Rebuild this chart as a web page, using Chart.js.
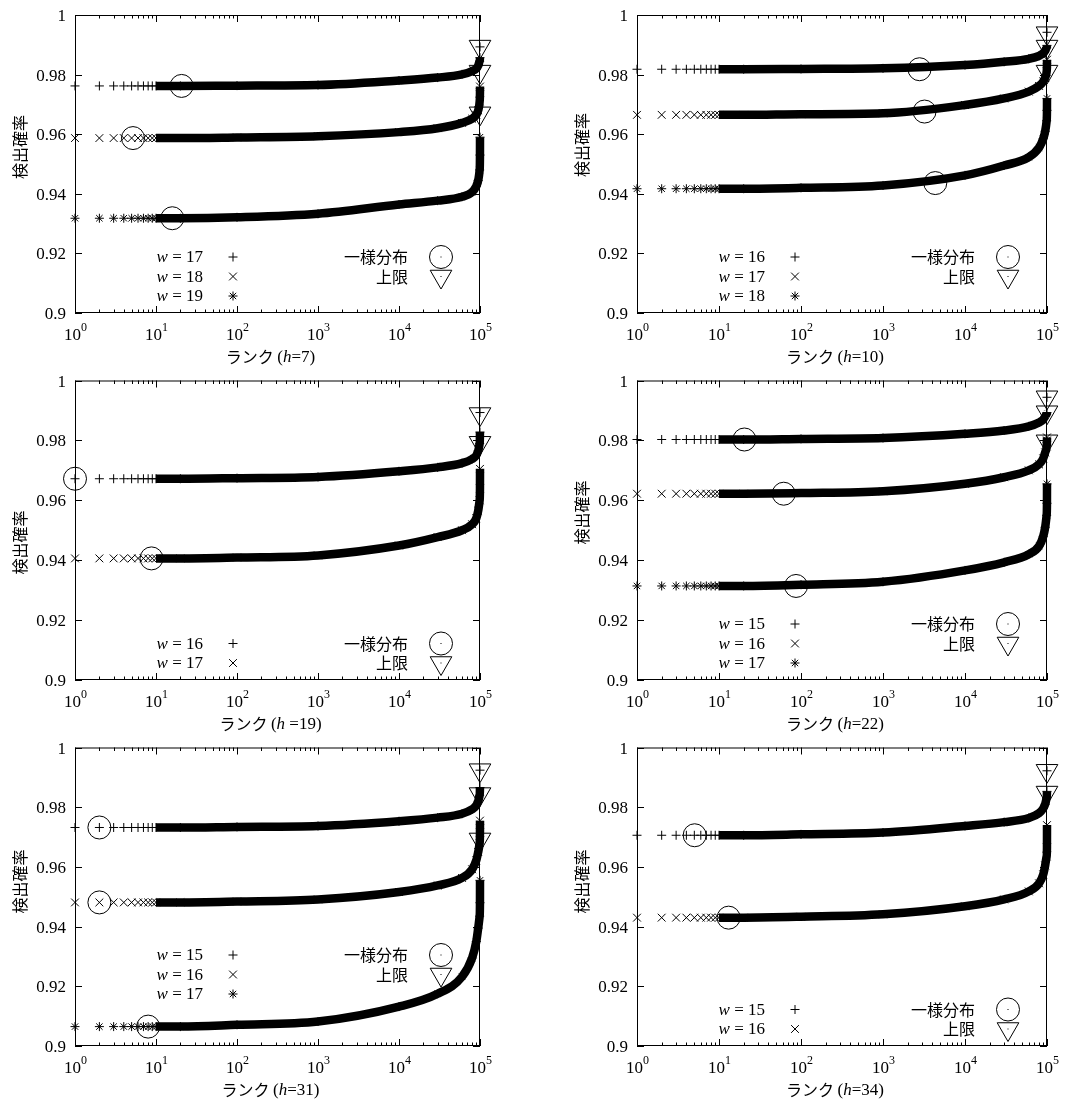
<!DOCTYPE html>
<html>
<head>
<meta charset="utf-8">
<script src="https://cdn.jsdelivr.net/npm/chart.js"></script>
<style>
  body { margin: 0; background: #fff; }
  #wrap { position: relative; width: 1075px; height: 1102px; }
  #wrap canvas { position: absolute; }
</style>
</head>
<body>
<div id="wrap"></div>
<script>
// ranks sampled along the x axis (log scale)
const ranks = [1, 2, 3, 4, 5, 6, 7, 8, 9, 10, 20, 100, 1000, 10000, 30000, 60000, 80000, 90000, 95000, 99000, 99900, 100000];

// h = 7
const h7_w17 = [0.9762, 0.9762, 0.9762, 0.9762, 0.9762, 0.9762, 0.9762, 0.9762, 0.9762, 0.9762, 0.9762, 0.9763, 0.9765, 0.9780, 0.9790, 0.9801, 0.9812, 0.9820, 0.9830, 0.9845, 0.9857, 0.9893];
const h7_w18 = [0.9587, 0.9587, 0.9587, 0.9587, 0.9587, 0.9587, 0.9587, 0.9587, 0.9587, 0.9587, 0.9587, 0.9589, 0.9593, 0.9607, 0.9620, 0.9638, 0.9652, 0.9665, 0.9680, 0.9710, 0.9740, 0.9760];
const h7_w19 = [0.9318, 0.9318, 0.9318, 0.9318, 0.9318, 0.9318, 0.9318, 0.9318, 0.9318, 0.9318, 0.9318, 0.9321, 0.9333, 0.9364, 0.9377, 0.9390, 0.9406, 0.9425, 0.9445, 0.9480, 0.9530, 0.9590];
// h = 10
const h10_w16 = [0.9818, 0.9818, 0.9818, 0.9818, 0.9818, 0.9818, 0.9818, 0.9818, 0.9818, 0.9818, 0.9818, 0.9819, 0.9821, 0.9832, 0.9843, 0.9853, 0.9863, 0.9872, 0.9880, 0.9890, 0.9898, 0.9942];
const h10_w17 = [0.9665, 0.9665, 0.9665, 0.9665, 0.9665, 0.9665, 0.9665, 0.9665, 0.9665, 0.9665, 0.9665, 0.9667, 0.9670, 0.9698, 0.9720, 0.9743, 0.9762, 0.9777, 0.9790, 0.9810, 0.9835, 0.9850];
const h10_w18 = [0.9417, 0.9417, 0.9417, 0.9417, 0.9417, 0.9417, 0.9417, 0.9417, 0.9417, 0.9417, 0.9417, 0.9420, 0.9428, 0.9462, 0.9495, 0.9523, 0.9555, 0.9585, 0.9610, 0.9645, 0.9680, 0.9720];
// h = 19
const h19_w16 = [0.9672, 0.9672, 0.9672, 0.9672, 0.9672, 0.9672, 0.9672, 0.9672, 0.9672, 0.9672, 0.9672, 0.9674, 0.9678, 0.9697, 0.9710, 0.9724, 0.9738, 0.9750, 0.9765, 0.9790, 0.9828, 0.9893];
const h19_w17 = [0.9406, 0.9406, 0.9406, 0.9406, 0.9406, 0.9406, 0.9406, 0.9406, 0.9406, 0.9406, 0.9406, 0.9409, 0.9416, 0.9449, 0.9477, 0.9500, 0.9520, 0.9540, 0.9565, 0.9600, 0.9640, 0.9705];
// h = 22
const h22_w15 = [0.9803, 0.9803, 0.9803, 0.9803, 0.9803, 0.9803, 0.9803, 0.9803, 0.9803, 0.9803, 0.9803, 0.9805, 0.9808, 0.9822, 0.9833, 0.9847, 0.9860, 0.9870, 0.9880, 0.9888, 0.9893, 0.9944];
const h22_w16 = [0.9622, 0.9622, 0.9622, 0.9622, 0.9622, 0.9622, 0.9622, 0.9622, 0.9622, 0.9622, 0.9622, 0.9624, 0.9630, 0.9655, 0.9677, 0.9700, 0.9720, 0.9740, 0.9760, 0.9780, 0.9800, 0.9810];
const h22_w17 = [0.9314, 0.9314, 0.9314, 0.9314, 0.9314, 0.9314, 0.9314, 0.9314, 0.9314, 0.9314, 0.9314, 0.9318, 0.9328, 0.9366, 0.9393, 0.9420, 0.9447, 0.9480, 0.9510, 0.9550, 0.9590, 0.9655];
// h = 31
const h31_w15 = [0.9732, 0.9732, 0.9732, 0.9732, 0.9732, 0.9732, 0.9732, 0.9732, 0.9732, 0.9732, 0.9732, 0.9734, 0.9737, 0.9753, 0.9765, 0.9778, 0.9793, 0.9806, 0.9820, 0.9840, 0.9866, 0.9924];
const h31_w16 = [0.9481, 0.9481, 0.9481, 0.9481, 0.9481, 0.9481, 0.9481, 0.9481, 0.9481, 0.9481, 0.9481, 0.9484, 0.9491, 0.9516, 0.9538, 0.9563, 0.9592, 0.9622, 0.9650, 0.9680, 0.9715, 0.9755];
const h31_w17 = [0.9065, 0.9065, 0.9065, 0.9065, 0.9065, 0.9065, 0.9065, 0.9065, 0.9065, 0.9065, 0.9065, 0.9071, 0.9082, 0.9132, 0.9175, 0.9232, 0.9295, 0.9350, 0.9395, 0.9435, 0.9480, 0.9555];
// h = 34
const h34_w15 = [0.9706, 0.9706, 0.9706, 0.9706, 0.9706, 0.9706, 0.9706, 0.9706, 0.9706, 0.9706, 0.9706, 0.9709, 0.9715, 0.9737, 0.9750, 0.9764, 0.9780, 0.9796, 0.9810, 0.9830, 0.9853, 0.9922];
const h34_w16 = [0.9430, 0.9430, 0.9430, 0.9430, 0.9430, 0.9430, 0.9430, 0.9430, 0.9430, 0.9430, 0.9430, 0.9433, 0.9441, 0.9468, 0.9491, 0.9518, 0.9545, 0.9575, 0.9605, 0.9635, 0.9665, 0.9740];

// 一様分布 (circles)
const h7_uniX = [20.7, 5.2, 15.9],   h7_uniY = [0.9762, 0.9587, 0.9318];
const h10_uniX = [2790, 3210, 4340], h10_uniY = [0.9818, 0.9676, 0.9436];
const h19_uniX = [1, 8.8],           h19_uniY = [0.9672, 0.9406];
const h22_uniX = [20.4, 61.5, 87],   h22_uniY = [0.9803, 0.9622, 0.9314];
const h31_uniX = [2, 2, 8],          h31_uniY = [0.9732, 0.9481, 0.9065];
const h34_uniX = [5.05, 13.1],       h34_uniY = [0.9706, 0.9430];

// 上限 (triangles at rank 1e5)
const upperRank = 100000;
const h7_upper = [0.9894, 0.9810, 0.9670];
const h10_upper = [0.9939, 0.9894, 0.9810];
const h19_upper = [0.9888, 0.9792];
const h22_upper = [0.9944, 0.9894, 0.9797];
const h31_upper = [0.9924, 0.9844, 0.9692];
const h34_upper = [0.9922, 0.9849];

const yTicks = [0.9, 0.92, 0.94, 0.96, 0.98, 1];
const yTickLabels = ['0.9', '0.92', '0.94', '0.96', '0.98', '1'];
const xDecades = [0, 1, 2, 3, 4, 5];

const markerStyles = ['cross', 'crossRot', 'star'];
const SERIF = '"Liberation Serif", "Times New Roman", serif';
const CJK = '"Noto Sans CJK JP", "Noto Sans", sans-serif';

const panels = [
  { row: 0, col: 0, h: '7',  eq: '=', w: [17, 18, 19], series: [h7_w17, h7_w18, h7_w19],    uniX: h7_uniX,  uniY: h7_uniY,  upper: h7_upper,  lift: 17, yTitleDy: 132 },
  { row: 0, col: 1, h: '10', eq: '=', w: [16, 17, 18], series: [h10_w16, h10_w17, h10_w18], uniX: h10_uniX, uniY: h10_uniY, upper: h10_upper, lift: 17, yTitleDy: 130 },
  { row: 1, col: 0, h: '19', eq: ' =', w: [16, 17],    series: [h19_w16, h19_w17],          uniX: h19_uniX, uniY: h19_uniY, upper: h19_upper, lift: 17, yTitleDy: 162 },
  { row: 1, col: 1, h: '22', eq: '=', w: [15, 16, 17], series: [h22_w15, h22_w16, h22_w17], uniX: h22_uniX, uniY: h22_uniY, upper: h22_upper, lift: 17, yTitleDy: 132 },
  { row: 2, col: 0, h: '31', eq: '=', w: [15, 16, 17], series: [h31_w15, h31_w16, h31_w17], uniX: h31_uniX, uniY: h31_uniY, upper: h31_upper, lift: 52, yTitleDy: 134 },
  { row: 2, col: 1, h: '34', eq: '=', w: [15, 16],     series: [h34_w15, h34_w16],          uniX: h34_uniX, uniY: h34_uniY, upper: h34_upper, lift: 17, yTitleDy: 134 },
];

// canvas boxes and plot-area edges (pixels)
const colX = [0, 537], colW = [537, 538];
const rowY = [0, 367, 734], rowH = [367, 367, 368];
const plotL = [75, 637], plotR = [480, 1047];
const plotT = [15, 380, 747], plotB = [313, 680, 1046];

function drawMarker(ctx, style, x, y, r) {
  ctx.beginPath();
  if (style === 'cross' || style === 'star') {
    ctx.moveTo(x - r, y); ctx.lineTo(x + r, y);
    ctx.moveTo(x, y - r); ctx.lineTo(x, y + r);
  }
  if (style === 'crossRot' || style === 'star') {
    const d = r * 0.7071;
    ctx.moveTo(x - d, y - d); ctx.lineTo(x + d, y + d);
    ctx.moveTo(x - d, y + d); ctx.lineTo(x + d, y - d);
  }
  ctx.stroke();
}

function framePlugin(p) {
  return {
    id: 'frame',
    afterDraw(chart) {
      const { ctx, chartArea: a, scales: { x, y } } = chart;
      const L = a.left, R = a.right, T = a.top, B = a.bottom;
      ctx.save();
      ctx.strokeStyle = '#000';
      ctx.fillStyle = '#000';
      ctx.lineWidth = 1;
      ctx.strokeRect(L + 0.5, T + 0.5, R - L - 1, B - T - 1);

      // y ticks, inward on both sides
      ctx.font = '17px ' + SERIF;
      ctx.textAlign = 'right';
      ctx.textBaseline = 'middle';
      yTicks.forEach((v, i) => {
        const py = Math.round(y.getPixelForValue(v)) + 0.5;
        ctx.beginPath();
        ctx.moveTo(L, py); ctx.lineTo(L + 7, py);
        ctx.moveTo(R, py); ctx.lineTo(R - 7, py);
        ctx.stroke();
        ctx.fillText(yTickLabels[i], L - 9, py + 1);
      });

      // x ticks (major + minor), inward on bottom and top
      xDecades.forEach(k => {
        const base = Math.pow(10, k);
        const px = Math.round(x.getPixelForValue(base)) + 0.5;
        ctx.beginPath();
        ctx.moveTo(px, B); ctx.lineTo(px, B - 7);
        ctx.moveTo(px, T); ctx.lineTo(px, T + 7);
        ctx.stroke();
        if (k < 5) {
          for (let m = 2; m <= 9; m++) {
            const mx = Math.round(x.getPixelForValue(m * base)) + 0.5;
            ctx.beginPath();
            ctx.moveTo(mx, B); ctx.lineTo(mx, B - 3.5);
            ctx.moveTo(mx, T); ctx.lineTo(mx, T + 3.5);
            ctx.stroke();
          }
        }
        // label 10^k
        ctx.textAlign = 'left';
        ctx.textBaseline = 'alphabetic';
        ctx.font = '17px ' + SERIF;
        const wb = ctx.measureText('10').width;
        ctx.font = '12px ' + SERIF;
        const we = ctx.measureText(String(k)).width;
        const sx = px - (wb + we) / 2;
        ctx.font = '17px ' + SERIF;
        ctx.fillText('10', sx, B + 27);
        ctx.font = '12px ' + SERIF;
        ctx.fillText(String(k), sx + wb, B + 18);
      });

      // x title: ランク (h=7)
      ctx.textBaseline = 'middle';
      const parts = [
        ['ランク ', '16px ' + CJK],
        ['(', '17px ' + SERIF],
        ['h', 'italic 17px ' + SERIF],
        [p.eq + p.h + ')', '17px ' + SERIF],
      ];
      let tw = 0;
      parts.forEach(([s, f]) => { ctx.font = f; tw += ctx.measureText(s).width; });
      let tx = (L + R) / 2 - 7 - tw / 2;
      ctx.textAlign = 'left';
      parts.forEach(([s, f]) => {
        ctx.font = f;
        ctx.fillText(s, tx, B + 44 + (f.indexOf('CJK') >= 0 ? 0 : 1));
        tx += ctx.measureText(s).width;
      });

      // y title
      ctx.save();
      ctx.translate(L - 55, T + p.yTitleDy);
      ctx.rotate(-Math.PI / 2);
      ctx.font = '16px ' + CJK;
      ctx.textAlign = 'center';
      ctx.textBaseline = 'middle';
      ctx.fillText('検出確率', 0, 0);
      ctx.restore();

      // key
      const n = p.w.length;
      const rowYpos = i => B - p.lift - (n - 1 - i) * 19.5;
      ctx.textBaseline = 'middle';
      p.w.forEach((wv, i) => {
        const ry = rowYpos(i);
        const rest = ' = ' + wv;
        ctx.font = '17px ' + SERIF;
        ctx.textAlign = 'right';
        ctx.fillText(rest, L + 128, ry + 1);
        const rw = ctx.measureText(rest).width;
        ctx.font = 'italic 17px ' + SERIF;
        ctx.fillText('w', L + 128 - rw, ry + 1);
        drawMarker(ctx, markerStyles[i], L + 158, ry, markerStyles[i] === 'crossRot' ? 5.5 : 4.5);
      });
      const r0 = rowYpos(0), r1 = rowYpos(1);
      ctx.font = '16px ' + CJK;
      ctx.textAlign = 'right';
      ctx.fillText('一様分布', R - 72, r0);
      ctx.fillText('上限', R - 72, r1);
      const mx = R - 39;
      ctx.beginPath();
      ctx.arc(mx, r0, 11.5, 0, Math.PI * 2);
      ctx.stroke();
      ctx.fillRect(mx - 0.5, r0 - 0.5, 1, 1);
      const tr = 12.5;
      ctx.beginPath();
      ctx.moveTo(mx, r1 + tr);
      ctx.lineTo(mx - 0.866 * tr, r1 - 0.5 * tr);
      ctx.lineTo(mx + 0.866 * tr, r1 - 0.5 * tr);
      ctx.closePath();
      ctx.stroke();
      ctx.fillRect(mx - 0.5, r1 - 0.5, 1, 1);
      ctx.restore();
    }
  };
}

const wrap = document.getElementById('wrap');
panels.forEach(p => {
  const cv = document.createElement('canvas');
  const cx = colX[p.col], cy = rowY[p.row], cw = colW[p.col], ch = rowH[p.row];
  cv.width = cw; cv.height = ch;
  cv.style.left = cx + 'px'; cv.style.top = cy + 'px';
  cv.style.width = cw + 'px'; cv.style.height = ch + 'px';
  wrap.appendChild(cv);

  const datasets = [];
  // circles and triangles first so they sit on top
  datasets.push({
    data: p.uniX.map((v, i) => ({ x: v, y: p.uniY[i] })),
    pointStyle: 'circle', pointRadius: 11.5, pointBorderWidth: 1,
    pointBorderColor: '#000', pointBackgroundColor: 'rgba(0,0,0,0)', showLine: false, clip: false,
  });
  datasets.push({
    data: p.upper.map(v => ({ x: upperRank, y: v })),
    pointStyle: 'triangle', rotation: 180, pointRadius: 12.5, pointBorderWidth: 1,
    pointBorderColor: '#000', pointBackgroundColor: 'rgba(0,0,0,0)', showLine: false, clip: false,
  });
  p.series.forEach((vals, si) => {
    const last = vals.length - 1;
    datasets.push({
      data: ranks.map((r, i) => ({ x: r, y: vals[i] })),
      showLine: true,
      borderColor: '#000',
      borderWidth: 8.5,
      borderJoinStyle: 'round',
      cubicInterpolationMode: 'monotone',
      segment: {
        borderColor: c => (c.p0.parsed.x < 10 || (si === 0 && c.p1DataIndex === last)) ? 'rgba(0,0,0,0)' : '#000',
      },
      pointStyle: markerStyles[si],
      pointRadius: markerStyles[si] === 'crossRot' ? 5.5 : 4.5,
      pointBorderWidth: 1,
      pointBorderColor: '#000',
      pointBackgroundColor: 'rgba(0,0,0,0)',
      clip: false,
    });
  });

  new Chart(cv.getContext('2d'), {
    type: 'scatter',
    data: { datasets },
    options: {
      responsive: false,
      animation: false,
      devicePixelRatio: 1,
      events: [],
      layout: {
        padding: {
          left: plotL[p.col] - cx,
          right: cx + cw - plotR[p.col],
          top: plotT[p.row] - cy,
          bottom: cy + ch - plotB[p.row],
        },
      },
      scales: {
        x: { type: 'logarithmic', min: 1, max: 100000, display: false },
        y: { type: 'linear', min: 0.9, max: 1, display: false },
      },
      plugins: { legend: { display: false }, tooltip: { enabled: false } },
    },
    plugins: [framePlugin(p)],
  });
});
</script>
</body>
</html>
